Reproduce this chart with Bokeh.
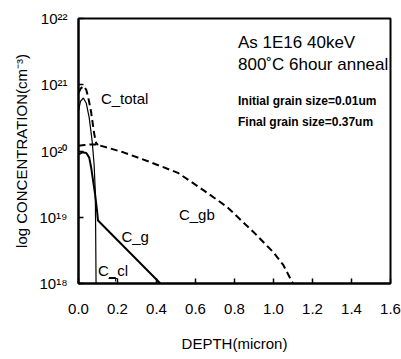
from bokeh.plotting import figure
from bokeh.models import Range1d, FixedTicker, CustomJSTickFormatter, NumeralTickFormatter
from bokeh.core.properties import value
from bokeh.embed import file_html
from bokeh.resources import INLINE

# ---- data (log10 of concentration in cm^-3 vs depth in micron) ----
gb_x = [0.0, 0.03, 0.06, 0.09, 0.10, 0.15, 0.23, 0.37, 0.51, 0.64, 0.76, 0.90, 1.00, 1.05, 1.10]
gb_log = [20.08, 20.09, 20.10, 20.10, 20.09, 20.05, 19.98, 19.83, 19.67, 19.41, 19.16, 18.77, 18.47, 18.28, 18.00]

total_x = [0.0, 0.013, 0.028, 0.04, 0.05, 0.064, 0.08, 0.09, 0.10]
total_log = [20.88, 20.95, 20.98, 20.92, 20.81, 20.60, 20.27, 20.12, 20.09]

g_x = [0.0, 0.02, 0.04, 0.055, 0.065, 0.075, 0.085, 0.095, 0.10, 0.42]
g_log = [19.95, 19.98, 19.97, 19.90, 19.75, 19.55, 19.35, 19.10, 18.95, 18.00]

cl_x = [0.0, 0.01, 0.025, 0.04, 0.055, 0.07, 0.08, 0.086, 0.088, 0.09]
cl_log = [20.60, 20.75, 20.80, 20.72, 20.50, 20.15, 19.80, 19.40, 18.80, 18.00]

x_ticks = [0.0, 0.2, 0.4, 0.6, 0.8, 1.0, 1.2, 1.4, 1.6]
y_exps = [18, 19, 20, 21, 22]
y_tick_labels = ["10\u00b9\u2078", "10\u00b9\u2079", "10\u00b2\u2070", "10\u00b2\u00b9", "10\u00b2\u00b2"]

curve_labels = ["C_total", "C_g", "C_gb", "C_cl"]
curve_label_x = [0.115, 0.22, 0.515, 0.10]
curve_label_log = [20.80, 18.71, 19.04, 18.20]

note_lines = ["As 1E16 40keV", "800\u02daC 6hour anneal", "Initial grain size=0.01um", "Final grain size=0.37um"]
note_log = [21.645, 21.313, 20.762, 20.445]

def pw(lst):
    return [10 ** v for v in lst]

FONT = "Liberation Sans"

p = figure(frame_width=312, frame_height=265, y_axis_type="log",
           x_range=Range1d(0, 1.6), y_range=Range1d(1e18, 1e22),
           output_backend="svg", toolbar_location=None,
           min_border_left=78, min_border_right=11, min_border_top=18, min_border_bottom=76)
p.background_fill_color = "white"
p.border_fill_color = "white"
p.grid.visible = False
p.outline_line_color = "black"
p.outline_line_width = 2

dash = "7 4"
p.line(gb_x, pw(gb_log), line_color="black", line_width=2, line_dash=dash)
p.line(total_x, pw(total_log), line_color="black", line_width=2, line_dash=dash)
p.line(g_x, pw(g_log), line_color="black", line_width=2)
p.line(cl_x, pw(cl_log), line_color="black", line_width=1.2)
# small leader under C_cl label
p.line([0.156, 0.19, 0.19], pw([18.09, 18.09, 18.03]), line_color="black", line_width=1)

p.text(x=curve_label_x, y=pw(curve_label_log), text=curve_labels,
       text_font=value(FONT), text_font_size="15px", text_align="left",
       text_baseline="middle", text_color="black")

p.text(x=[0.818] * 2, y=pw(note_log[:2]), text=note_lines[:2],
       text_font=value(FONT), text_font_size="17px", text_align="left",
       text_baseline="middle", text_color="black")
p.text(x=[0.818] * 2, y=pw(note_log[2:]), text=note_lines[2:],
       text_font=value(FONT), text_font_size="12px", text_font_style="bold",
       text_align="left", text_baseline="middle", text_color="black")

# axes
xa = p.xaxis[0]
xa.ticker = FixedTicker(ticks=x_ticks, minor_ticks=[])
xa.formatter = NumeralTickFormatter(format="0.0")
xa.axis_label = "DEPTH(micron)"

ya = p.yaxis[0]
ya.ticker = FixedTicker(ticks=[10 ** e for e in y_exps], minor_ticks=[])
ya.formatter = CustomJSTickFormatter(args=dict(labels=y_tick_labels, exps=y_exps), code="""
const e = Math.round(Math.log10(tick));
const i = exps.indexOf(e);
return i >= 0 ? labels[i] : '';
""")
ya.axis_label = "log CONCENTRATION(cm\u207b\u00b3)"

for ax in (xa, ya):
    ax.axis_line_width = 2
    ax.axis_line_color = "black"
    ax.major_tick_in = 5
    ax.major_tick_out = 0
    ax.minor_tick_in = 0
    ax.minor_tick_out = 0
    ax.major_tick_line_width = 1.5
    ax.major_label_text_font = FONT
    ax.major_label_text_font_size = "15px"
    ax.major_label_text_color = "black"
    ax.axis_label_text_font = FONT
    ax.axis_label_text_font_size = "15px"
    ax.axis_label_text_font_style = "normal"
    ax.axis_label_text_color = "black"

xa.major_label_standoff = 20
xa.axis_label_standoff = 18
ya.major_label_standoff = 11
ya.axis_label_standoff = 6

open("out.html", "w").write(file_html(p, INLINE))
